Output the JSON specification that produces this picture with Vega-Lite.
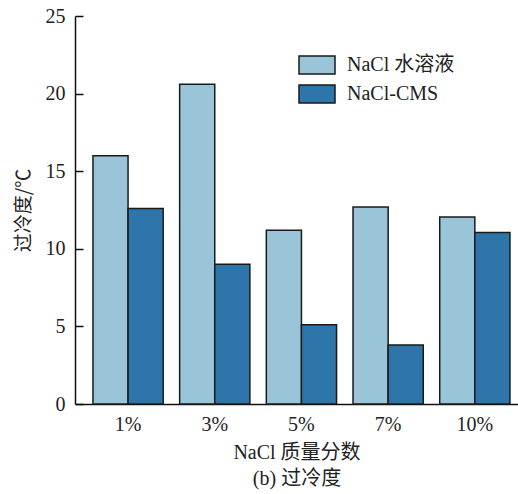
{
  "$schema": "https://vega.github.io/schema/vega-lite/v6.json",
  "width": 443,
  "height": 388,
  "autosize": "none",
  "padding": {"left": 75, "top": 16, "right": 0, "bottom": 90},
  "background": "white",
  "title": {
    "text": "(a) 相变温度",
    "font": "Liberation Serif, Noto Sans CJK SC",
    "fontSize": 20,
    "fontWeight": "normal",
    "color": "#444",
    "anchor": "middle",
    "baseline": "alphabetic",
    "offset": 4
  },
  "config": {
    "view": {"stroke": null},
    "font": "Liberation Serif, Noto Sans CJK SC"
  },
  "data": {
    "values": [
      {"c": "1%", "s": "NaCl 水溶液", "v": 16.0},
      {"c": "1%", "s": "NaCl-CMS", "v": 12.6},
      {"c": "3%", "s": "NaCl 水溶液", "v": 20.6},
      {"c": "3%", "s": "NaCl-CMS", "v": 9.0},
      {"c": "5%", "s": "NaCl 水溶液", "v": 11.2},
      {"c": "5%", "s": "NaCl-CMS", "v": 5.1},
      {"c": "7%", "s": "NaCl 水溶液", "v": 12.7},
      {"c": "7%", "s": "NaCl-CMS", "v": 3.8},
      {"c": "10%", "s": "NaCl 水溶液", "v": 12.05},
      {"c": "10%", "s": "NaCl-CMS", "v": 11.05}
    ]
  },
  "mark": {"type": "bar", "stroke": "#1a1a1a", "strokeWidth": 1.5},
  "encoding": {
    "x": {
      "field": "c",
      "type": "nominal",
      "sort": ["1%", "3%", "5%", "7%", "10%"],
      "scale": {"paddingInner": 0.19, "paddingOuter": 0.15, "align": 0.69},
      "axis": {
        "title": ["NaCl 质量分数", "(b) 过冷度"],
        "titleFont": "Liberation Serif, Noto Sans CJK SC",
        "titleFontSize": 20,
        "titleFontWeight": "normal",
        "titleColor": "#222",
        "titleLineHeight": 26,
        "titlePadding": 8,
        "labelAngle": 0,
        "labelFontSize": 20,
        "labelColor": "#222",
        "labelPadding": 10,
        "ticks": false,
        "domainColor": "#111",
        "domainWidth": 1.5
      }
    },
    "xOffset": {
      "field": "s",
      "type": "nominal",
      "sort": ["NaCl 水溶液", "NaCl-CMS"],
      "scale": {"paddingInner": 0, "paddingOuter": 0}
    },
    "y": {
      "field": "v",
      "type": "quantitative",
      "scale": {"domain": [0, 25], "nice": false},
      "axis": {
        "title": "过冷度/℃",
        "titleFont": "Noto Sans CJK SC",
        "titleFontSize": 19,
        "titleFontWeight": "normal",
        "titleColor": "#222",
        "titlePadding": 12,
        "values": [0, 5, 10, 15, 20, 25],
        "labelFontSize": 20,
        "labelColor": "#222",
        "tickSize": -8,
        "tickColor": "#111",
        "tickWidth": 1.5,
        "labelPadding": 18,
        "grid": false,
        "domainColor": "#111",
        "domainWidth": 1.5
      }
    },
    "color": {
      "field": "s",
      "type": "nominal",
      "sort": ["NaCl 水溶液", "NaCl-CMS"],
      "scale": {"range": ["#9ac5d9", "#2e76aa"]},
      "legend": {
        "title": null,
        "orient": "none",
        "legendX": 232,
        "legendY": 39,
        "padding": 0,
        "symbolType": "M-2,-1H2V1H-2Z",
        "symbolSize": 324,
        "symbolStrokeColor": "#1a1a1a",
        "symbolStrokeWidth": 1.5,
        "symbolOpacity": 1,
        "labelFontSize": 20,
        "labelColor": "#222",
        "labelOffset": 20,
        "rowPadding": 5
      }
    }
  }
}
